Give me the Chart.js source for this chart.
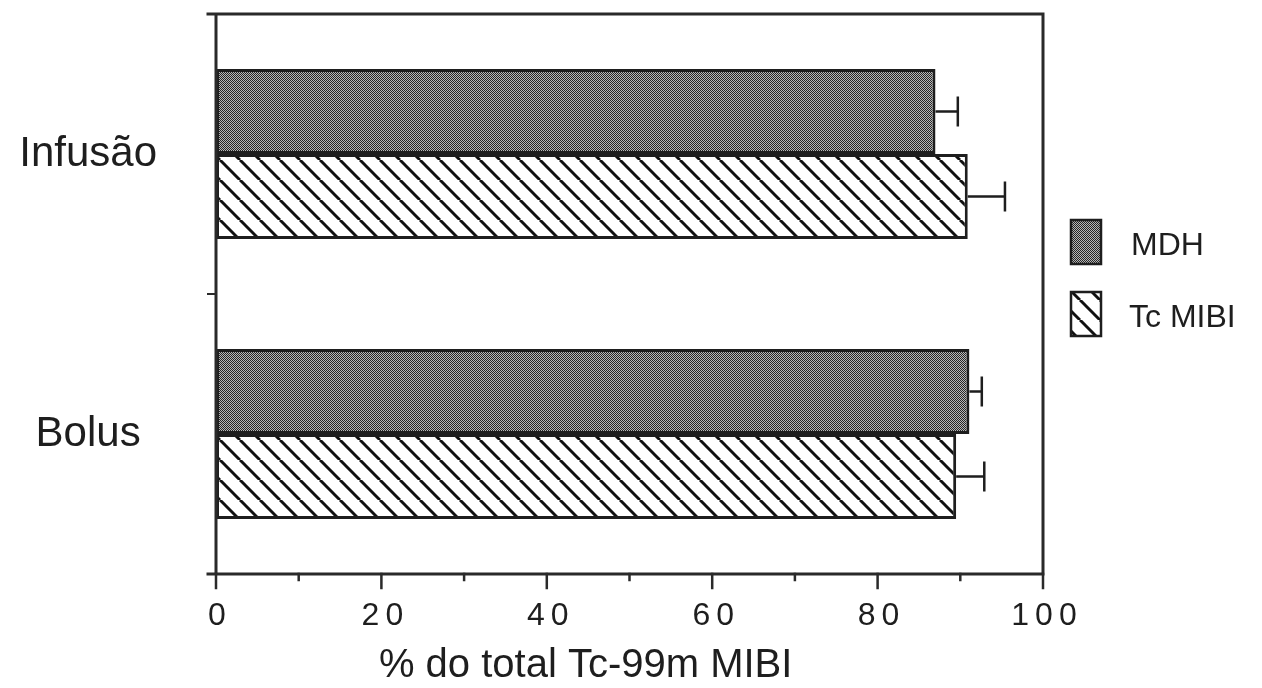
<!DOCTYPE html>
<html>
<head>
<meta charset="utf-8">
<script src="https://cdn.jsdelivr.net/npm/chart.js@4"></script>
<style>
  html, body { margin: 0; padding: 0; background: #fff; }
  canvas { display: block; }
</style>
</head>
<body>
<canvas id="chart" width="1262" height="688"></canvas>
<script>
// ===== DATA =====
const categories = ['Infusão', 'Bolus'];
const seriesNames = ['MDH', 'Tc MIBI'];
const mdhValues = [87.0, 91.1];
const mdhErrors = [2.7, 1.5];
const mibiValues = [90.9, 89.5];
const mibiErrors = [4.5, 3.4];
const xMin = 0, xMax = 100, xStep = 20, xMinorStep = 10;
const axisTitle = '% do total Tc-99m MIBI';

const FONT = '"Liberation Sans", Arial, Helvetica, sans-serif';
const INK = '#1e1e1e';

// ===== PATTERNS =====
function stipple(){
  const c = document.createElement('canvas');
  c.width = 4; c.height = 4;
  const g = c.getContext('2d');
  g.fillStyle = '#b8b8b8';
  g.fillRect(0,0,4,4);
  g.fillStyle = '#262626';
  for(let x=0;x<4;x++){
    for(let y=0;y<4;y++){
      if((x+y)%2===0) g.fillRect(x,y,1,1);
    }
  }
  return g.createPattern(c,'repeat');
}

function hatch(){
  const s = 20;
  const c = document.createElement('canvas');
  c.width = s; c.height = s;
  const g = c.getContext('2d');
  g.fillStyle = '#fff';
  g.fillRect(0,0,s,s);
  g.strokeStyle = '#111';
  g.lineWidth = 3;
  [-s,0,s].forEach(x0=>{
    g.beginPath();
    g.moveTo(x0,0);
    g.lineTo(x0+s,s);
    g.stroke();
  });
  return g.createPattern(c,'repeat');
}

const mdhFill = stipple();
const mibiFill = hatch();

// ===== PLUGINS =====
const errorBars = {
  id:'errorBars',
  afterDatasetsDraw(chart){
    const ctx = chart.ctx;
    const x = chart.scales.x;
    ctx.save();
    ctx.strokeStyle = INK;
    ctx.lineWidth = 2.5;
    chart.data.datasets.forEach((ds,i)=>{
      const meta = chart.getDatasetMeta(i);
      meta.data.forEach((bar,j)=>{
        const v = ds.data[j];
        const e = ds.errors[j];
        const x0 = x.getPixelForValue(v);
        const x1 = x.getPixelForValue(v+e);
        ctx.beginPath();
        ctx.moveTo(x0,bar.y);
        ctx.lineTo(x1,bar.y);
        ctx.moveTo(x1,bar.y-15);
        ctx.lineTo(x1,bar.y+15);
        ctx.stroke();
      });
    });
    ctx.restore();
  }
};

const frame = {
  id:'frame',
  afterDraw(chart){
    const ctx = chart.ctx;
    const a = chart.chartArea;
    const x = chart.scales.x;
    const y = chart.scales.y;
    ctx.save();
    ctx.strokeStyle = '#2a2a2a';
    ctx.lineWidth = 3;
    ctx.lineCap = 'square';

    // box
    ctx.beginPath();
    ctx.moveTo(a.left-8,a.top); ctx.lineTo(a.right,a.top);
    ctx.moveTo(a.left-8,a.bottom); ctx.lineTo(a.right,a.bottom);
    ctx.moveTo(a.left,a.top); ctx.lineTo(a.left,a.bottom);
    ctx.moveTo(a.right,a.top); ctx.lineTo(a.right,a.bottom);
    ctx.stroke();

    // y ticks between categories
    ctx.lineWidth = 2;
    ctx.beginPath();
    for(let i=0;i<categories.length-1;i++){
      const yy = (y.getPixelForValue(i)+y.getPixelForValue(i+1))/2;
      ctx.moveTo(a.left-8,yy); ctx.lineTo(a.left,yy);
    }
    ctx.stroke();

    // x ticks, major and minor
    ctx.lineWidth = 2.5;
    ctx.beginPath();
    for(let v=xMin; v<=xMax; v+=xMinorStep){
      const xx = x.getPixelForValue(v);
      const len = v % xStep === 0 ? 14 : 6;
      ctx.moveTo(xx,a.bottom); ctx.lineTo(xx,a.bottom+len);
    }
    ctx.stroke();

    // x tick labels (letter-spaced, like the typewriter original)
    ctx.fillStyle = INK;
    ctx.font = '32px ' + FONT;
    ctx.textAlign = 'center';
    ctx.textBaseline = 'middle';
    ctx.letterSpacing = '6px';
    x.ticks.forEach(t=>{
      ctx.fillText(String(t.value), x.getPixelForValue(t.value) + 4, a.bottom + 42);
    });
    ctx.letterSpacing = '0px';

    // axis title
    ctx.font = '40px ' + FONT;
    ctx.fillText(axisTitle, a.left + (a.right-a.left)*0.447, 666);

    // legend
    const items = chart.data.datasets;
    items.forEach((ds,i)=>{
      const bx = a.right + 28, by = 220 + i*72;
      ctx.fillStyle = ds.backgroundColor;
      ctx.fillRect(bx,by,30,44);
      ctx.lineWidth = 2.5;
      ctx.strokeStyle = INK;
      ctx.strokeRect(bx,by,30,44);
      ctx.fillStyle = INK;
      ctx.font = '32px ' + FONT;
      ctx.textAlign = 'left';
      ctx.fillText(ds.label, bx + 60 - i*2, by + 26);
    });
    ctx.restore();
  }
};

function noPad(s){
  s.paddingTop = 0; s.paddingBottom = 0;
  s.paddingLeft = 0; s.paddingRight = 0;
}

// ===== CHART =====
new Chart(document.getElementById('chart'), {
  type:'bar',
  data:{
    labels: categories,
    datasets:[
      {
        label: seriesNames[0],
        data: mdhValues,
        errors: mdhErrors,
        backgroundColor: mdhFill,
        borderColor: INK,
        borderWidth: 3,
        borderSkipped: false
      },
      {
        label: seriesNames[1],
        data: mibiValues,
        errors: mibiErrors,
        backgroundColor: mibiFill,
        borderColor: INK,
        borderWidth: 3,
        borderSkipped: false
      }
    ]
  },
  options:{
    indexAxis:'y',
    responsive:false,
    devicePixelRatio:1,
    animation:false,
    categoryPercentage:0.607,
    barPercentage:1,
    layout:{ padding:{ top:14, right:219, left:0, bottom:0 } },
    plugins:{
      legend:{ display:false },
      tooltip:{ enabled:false }
    },
    scales:{
      x:{
        min:xMin,
        max:xMax,
        grid:{ display:false, drawTicks:false },
        border:{ display:false },
        ticks:{
          display:false,
          stepSize:xStep
        },
        afterFit:(s)=>{ s.height = 114; noPad(s); }
      },
      y:{
        grid:{ display:false, drawTicks:false },
        border:{ display:false },
        ticks:{
          color:INK,
          crossAlign:'center',
          padding:59,
          font:{ family:FONT, size:42 }
        },
        afterFit:(s)=>{ s.width = 216; noPad(s); }
      }
    }
  },
  plugins:[errorBars, frame]
});
</script>
</body>
</html>
